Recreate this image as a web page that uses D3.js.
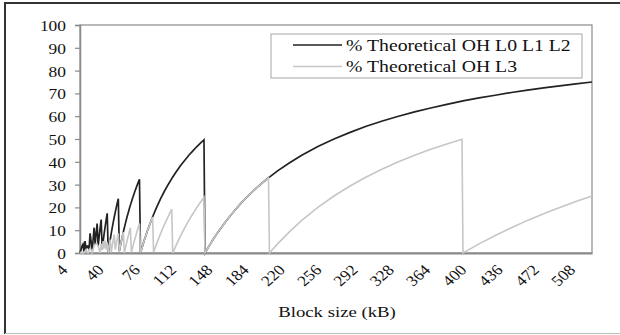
<!DOCTYPE html>
<html>
<head>
<meta charset="utf-8">
<script src="https://cdn.jsdelivr.net/npm/d3@7"></script>
<style>
  html, body { margin: 0; padding: 0; background: #fff; }
  svg { display: block; }
  text { font-family: "Liberation Serif", "Times New Roman", serif; fill: #111; }
</style>
</head>
<body>
<svg id="chart" width="620" height="335"></svg>
<script>
// Block size (kB)
const blockSize = [
  4,5,6,7,8,9,10,11,12,13,14,15,16,17,18,19,20,21,22,23,24,25,26,27,28,29,30,31,32,
  33,34,35,36,37,38,39,40,41,42,43,44,45,46,47,48,49,50,51,52,53,54,55,56,57,58,59,60,
  61,62,63,64,65,66,67,68,69,70,71,72,73,74,75,76,77,80,84,88,92,95,96,100,104,108,112,
  116,120,124,127,128,132,136,140,148,156,164,172,180,188,191,192,200,212,224,240,256,
  272,288,304,320,336,352,368,383,384,400,416,432,448,464,480,496,512
];
// % Theoretical OH L0 L1 L2
const ohL012 = [
  0,1.5,3.0,3.8,0,5.2,1.5,3.0,3.0,1.5,8.6,5.2,0,5.9,11.1,3.8,8.6,12.9,3.0,7.2,11.1,14.7,1.5,5.2,8.6,11.7,14.7,17.4,0,
  3.0,5.9,8.6,11.1,13.5,15.8,17.9,20.0,22.0,23.8,0.8,3.0,5.2,7.2,9.2,11.1,12.9,14.7,16.3,17.9,19.5,21.0,22.4,23.8,25.1,26.4,27.7,28.9,
  30.1,31.2,32.3,0,1.5,3.0,4.5,5.9,7.2,8.6,9.9,11.1,12.3,13.5,14.7,15.8,16.9,20.0,23.8,27.3,30.4,32.6,33.3,36.0,38.5,40.7,42.9,
  44.8,46.7,48.4,49.6,0,3.0,5.9,8.6,13.5,17.9,22.0,25.6,28.9,31.9,33.0,33.3,36.0,39.6,42.9,46.7,50.0,
  52.9,55.6,57.9,60.0,61.9,63.6,65.2,66.6,66.7,68.0,69.2,70.4,71.4,72.4,73.3,74.2,75.0
];
// % Theoretical OH L3
const ohL3 = [
  0,0.3,0,0.3,0,0.8,1.5,0.3,0,1.5,2.0,1.5,0,1.8,3.0,3.8,4.0,3.8,3.0,1.8,0,4.0,1.5,5.2,2.0,5.4,1.5,4.7,0,
  3.0,5.9,0.3,3.0,5.7,8.1,1.5,4.0,6.3,8.6,0.8,3.0,5.2,7.2,9.2,0,2.0,4.0,5.9,7.7,9.4,11.1,0.3,2.0,3.8,5.4,7.0,8.6,
  10.1,11.5,12.9,0,1.5,3.0,4.5,5.9,7.2,8.6,9.9,11.1,12.3,13.5,14.7,15.8,0.3,4.0,8.6,12.7,16.5,19.2,0,4.0,7.7,11.1,14.3,
  17.2,20.0,22.6,24.4,0,3.0,5.9,8.6,13.5,17.9,22.0,25.6,28.9,31.9,33.0,0,4.0,9.4,14.3,20.0,25.0,
  29.4,33.3,36.8,40.0,42.9,45.5,47.8,49.9,0,4.0,7.7,11.1,14.3,17.2,20.0,22.6,25.0
];
const xTickValues = [4,40,76,112,148,184,220,256,292,328,364,400,436,472,508];
const yTickValues = [0,10,20,30,40,50,60,70,80,90,100];
const seriesNames = ["% Theoretical OH L0 L1 L2", "% Theoretical OH L3"];
const xTitle = "Block size (kB)";

const svg = d3.select("#chart");
const plot = { left: 80, right: 592, top: 25, bottom: 253 };

const x = d3.scaleLinear().domain([4, 512]).range([plot.left, plot.right]);
const y = d3.scaleLinear().domain([0, 100]).range([plot.bottom, plot.top]);

// outer frame
svg.append("line").attr("x1", 5).attr("x2", 5).attr("y1", 2).attr("y2", 334)
  .attr("stroke", "#333").attr("stroke-width", 2);
svg.append("line").attr("x1", 4).attr("x2", 620).attr("y1", 3).attr("y2", 3)
  .attr("stroke", "#333").attr("stroke-width", 2);
svg.append("line").attr("x1", 5).attr("x2", 620).attr("y1", 333.5).attr("y2", 333.5)
  .attr("stroke", "#bbb").attr("stroke-width", 1);

// plot border
svg.append("rect").attr("x", plot.left).attr("y", plot.top)
  .attr("width", plot.right - plot.left).attr("height", plot.bottom - plot.top)
  .attr("fill", "none").attr("stroke", "#8a8a8a").attr("stroke-width", 1.2);

// y axis
const yAxis = d3.axisLeft(y).tickValues(yTickValues).tickSize(5).tickFormat(d3.format("d"));
const gy = svg.append("g").attr("transform", `translate(${plot.left},0)`).call(yAxis);
gy.select(".domain").attr("stroke", "#8a8a8a").attr("stroke-width", 1.5);
gy.selectAll(".tick line").attr("stroke", "#8a8a8a").attr("stroke-width", 1.2);
gy.selectAll(".tick text").remove();
gy.selectAll(".tick").append("text")
  .attr("transform", "translate(-14,0.5) scale(1.2,1)")
  .attr("text-anchor", "end").attr("dy", "0.35em")
  .style("font-size", "14.5px")
  .text(d => d);

// x axis
const xAxis = d3.axisBottom(x).tickValues(xTickValues).tickSize(0).tickFormat(d3.format("d"));
const gx = svg.append("g").attr("transform", `translate(0,${plot.bottom})`).call(xAxis);
gx.select(".domain").attr("stroke", "#8a8a8a").attr("stroke-width", 2);
gx.selectAll(".tick text").remove();
gx.selectAll(".tick").append("text")
  .attr("transform", "translate(-12,18) scale(1.15,1) rotate(-45)")
  .attr("text-anchor", "end")
  .style("font-size", "15px")
  .text(d => d);

// axis title
svg.append("text")
  .attr("transform", `translate(${(plot.left + plot.right) / 2 + 1},317) scale(1.25,1)`)
  .attr("text-anchor", "middle")
  .style("font-size", "15px")
  .text(xTitle);

// lines
const line = vals => d3.line()
  .x((d, i) => x(blockSize[i]))
  .y(d => y(d))(vals);

svg.append("path").attr("d", line(ohL012))
  .attr("fill", "none").attr("stroke", "#222").attr("stroke-width", 1.7)
  .attr("stroke-linejoin", "miter");
svg.append("path").attr("d", line(ohL3))
  .attr("fill", "none").attr("stroke", "#c6c6c6").attr("stroke-width", 1.6)
  .attr("stroke-linejoin", "miter");

// legend
const lg = svg.append("g");
lg.append("rect").attr("x", 271).attr("y", 34).attr("width", 311).attr("height", 44)
  .attr("fill", "#fff").attr("stroke", "#a5a5a5").attr("stroke-width", 1);
const legendColors = ["#222", "#c6c6c6"];
seriesNames.forEach((name, i) => {
  const cy = 45 + i * 21.5;
  lg.append("line").attr("x1", 293).attr("x2", 342).attr("y1", cy).attr("y2", cy)
    .attr("stroke", legendColors[i]).attr("stroke-width", 1.6);
  lg.append("text")
    .attr("transform", `translate(346,${cy + 5.5}) scale(1.16,1)`)
    .style("font-size", "17px")
    .text(name);
});
</script>
</body>
</html>
